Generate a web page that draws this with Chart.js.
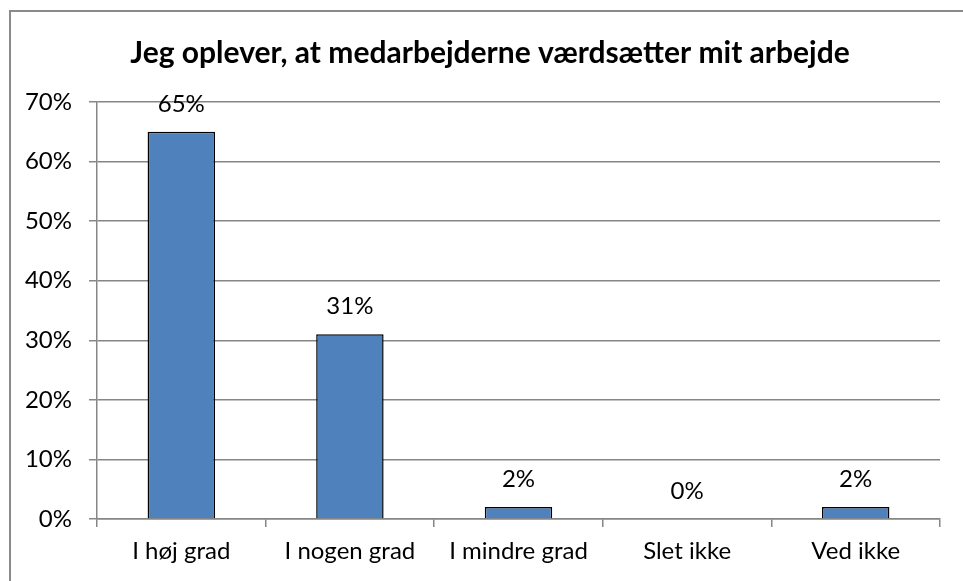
<!DOCTYPE html>
<html>
<head>
<meta charset="utf-8">
<script src="https://cdn.jsdelivr.net/npm/chart.js@4.4.1/dist/chart.umd.min.js"></script>
<style>
  html, body { margin: 0; padding: 0; background: #fff; }
  #wrap { position: relative; width: 963px; height: 581px; overflow: hidden; }
  #frame { position: absolute; left: 9px; top: 10px; width: 1000px; height: 600px;
           border-left: 2px solid #8a8a8a; border-top: 2px solid #8a8a8a; }
  canvas { position: absolute; left: 0; top: 0; }
</style>
</head>
<body>
<div id="wrap">
  <div id="frame"></div>
  <canvas id="chart" width="963" height="581"></canvas>
</div>
<script>
const categories = ['I høj grad', 'I nogen grad', 'I mindre grad', 'Slet ikke', 'Ved ikke'];
const values = [65, 31, 2, 0, 2];
const chartTitle = 'Jeg oplever, at medarbejderne værdsætter mit arbejde';

const FONT = 'Lato, "Open Sans", sans-serif';

// draws the % labels above each bar
const barLabels = {
  id: 'barLabels',
  afterLayout(chart) {
    // title sits a bit right of the canvas centre in the original
    if (chart.titleBlock) chart.titleBlock.left = 40;
  },
  afterDatasetsDraw(chart) {
    const ctx = chart.ctx;
    const meta = chart.getDatasetMeta(0);
    ctx.save();
    ctx.font = '24px ' + FONT;
    ctx.fillStyle = '#000';
    ctx.textAlign = 'center';
    ctx.textBaseline = 'alphabetic';
    meta.data.forEach((bar, i) => {
      ctx.fillText(values[i] + '%', bar.x, bar.y - 20);
    });
    ctx.restore();
  }
};

new Chart(document.getElementById('chart'), {
  type: 'bar',
  data: {
    labels: categories,
    datasets: [{
      data: values,
      backgroundColor: '#4F81BD',
      borderColor: '#000',
      borderWidth: 1.5,
      barPercentage: 0.4,
      categoryPercentage: 1
    }]
  },
  options: {
    responsive: false,
    animation: false,
    layout: { padding: { left: 0, right: 23, top: 0, bottom: 0 } },
    plugins: {
      legend: { display: false },
      tooltip: { enabled: false },
      title: {
        display: true,
        text: chartTitle,
        color: '#000',
        font: { family: FONT, size: 30, weight: 'bold', lineHeight: 1.2 },
        padding: { top: 35, bottom: 31 }
      }
    },
    scales: {
      y: {
        min: 0,
        max: 70,
        ticks: {
          stepSize: 10,
          color: '#000',
          font: { family: FONT, size: 24 },
          padding: 17,
          callback: v => v + '%'
        },
        grid: { color: '#868686', lineWidth: 1.5, tickLength: 8 },
        border: { color: '#868686', width: 1.5 },
        afterFit: scale => { scale.width = 97; }
      },
      x: {
        ticks: {
          color: '#000',
          font: { family: FONT, size: 24 },
          padding: 10
        },
        grid: { drawOnChartArea: false, color: '#868686', lineWidth: 1.5, tickLength: 8 },
        border: { color: '#868686', width: 1.5 },
        afterFit: scale => { scale.height = 62; }
      }
    }
  },
  plugins: [barLabels]
});
</script>
</body>
</html>
